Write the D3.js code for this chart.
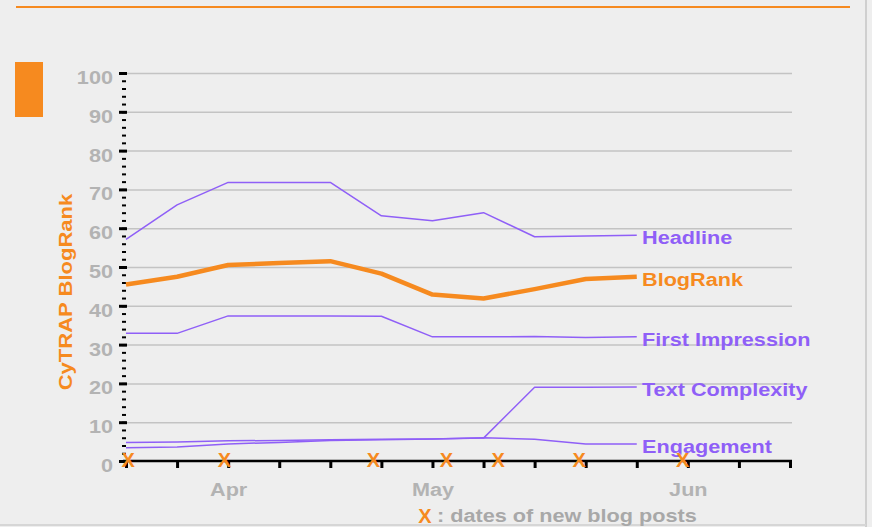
<!DOCTYPE html>
<html lang="en">
<head>
    <meta charset="UTF-8">
    <title>CyTRAP BlogRank</title>
    <script src="https://d3js.org/d3.v7.min.js"></script>
    <style>
        body, html {
            margin: 0;
            padding: 0;
            background: #eeeeee;
            font-family: "Liberation Sans", Arial, sans-serif;
        }
        svg text { font-weight: bold; }
    </style>
</head>
<body>
    <div id="chart"></div>
    <script>
        // weekly samples, in days from the first tick
        const weekDays = [0, 7, 14, 21, 28, 35, 42, 49, 56, 63, 70];
        const headline = [57.1, 66, 71.8, 71.8, 71.8, 63.2, 61.9, 64, 57.8, 58, 58.2];
        const blogRank = [45.5, 47.5, 50.5, 51, 51.5, 48.3, 42.9, 41.9, 44.3, 46.9, 47.5];
        const firstImpression = [32.9, 32.9, 37.4, 37.4, 37.4, 37.3, 32.0, 32.0, 32.1, 31.8, 32.0];
        const textComplexity = [3.4, 3.6, 4.4, 4.8, 5.3, 5.5, 5.7, 5.9, 19.0, 19.0, 19.1];
        const engagement = [4.8, 4.9, 5.2, 5.3, 5.5, 5.6, 5.7, 6.0, 5.6, 4.4, 4.4];

        const seriesNames = ["Headline", "BlogRank", "First Impression", "Text Complexity", "Engagement"];
        const postDays = [0.3, 13.5, 33.9, 43.9, 51.0, 62.1, 76.3];
        const monthDays = [14, 42, 77];
        const monthLabels = ["Apr", "May", "Jun"];
        const weekTicks = d3.range(0, 92, 7);
        const yTicks = d3.range(0, 101, 10);

        const W = 872, H = 527;
        const orange = "#f68a1f", purple = "#8f5ff7", gray = "#b3b3b3";
        const stretch = 1.14;

        const svg = d3.select("#chart").append("svg")
            .attr("width", W)
            .attr("height", H);

        // frame bits
        svg.append("line").attr("x1", 16).attr("x2", 850).attr("y1", 7).attr("y2", 7)
            .attr("stroke", orange).attr("stroke-width", 2);
        svg.append("line").attr("x1", 866).attr("x2", 866).attr("y1", 0).attr("y2", H)
            .attr("stroke", "#cfcfcf").attr("stroke-width", 2);
        svg.append("line").attr("x1", 0).attr("x2", 866).attr("y1", 525).attr("y2", 525)
            .attr("stroke", "#d6d6d6").attr("stroke-width", 2);
        svg.append("rect").attr("x", 15).attr("y", 62).attr("width", 28).attr("height", 55)
            .attr("fill", orange);

        const x = d3.scaleLinear().domain([0, 91]).range([126, 790]);
        const y = d3.scaleLinear().domain([0, 100]).range([461, 73]);

        // grid
        svg.append("g")
            .attr("transform", "translate(123,0)")
            .call(d3.axisRight(y).tickValues(yTicks.slice(1)).tickSize(669).tickFormat(""))
            .call(g => g.select(".domain").remove())
            .call(g => g.selectAll("line").attr("stroke", "#c3c3c3").attr("stroke-width", 1.5));

        // y minor ticks (dotted axis)
        svg.append("g")
            .attr("transform", "translate(126,0)")
            .call(d3.axisLeft(y).tickValues(d3.range(0, 101, 2)).tickSize(4).tickFormat(""))
            .call(g => g.select(".domain").remove())
            .call(g => g.selectAll("line").attr("stroke", "#000").attr("stroke-width", 2));

        // y major ticks
        svg.append("g")
            .attr("transform", "translate(127,0)")
            .call(d3.axisLeft(y).tickValues(yTicks).tickSize(8).tickFormat(""))
            .call(g => g.select(".domain").remove())
            .call(g => g.selectAll("line").attr("stroke", "#000").attr("stroke-width", 3));

        // y labels
        svg.append("g")
            .attr("transform", "translate(113,0)")
            .call(d3.axisLeft(y).tickValues(yTicks).tickSize(0).tickPadding(0))
            .call(g => g.select(".domain").remove())
            .call(g => g.selectAll("text")
                .attr("fill", gray)
                .attr("font-size", 19)
                .attr("font-family", "Liberation Sans, Arial, sans-serif")
                .attr("dy", "0.55em")
                .attr("transform", `scale(${stretch},1)`));

        svg.append("text")
            .attr("transform", `translate(72,292) rotate(-90) scale(1.16,1)`)
            .attr("text-anchor", "middle")
            .attr("fill", orange)
            .attr("font-size", 19)
            .text("CyTRAP BlogRank");

        // x axis
        svg.append("g")
            .attr("transform", "translate(0,461)")
            .call(d3.axisBottom(x).tickValues(weekTicks).tickSize(7).tickFormat(""))
            .call(g => g.select(".domain").attr("d", "M123,0H792").attr("stroke", "#000").attr("stroke-width", 2.5))
            .call(g => g.selectAll(".tick line").attr("stroke", "#000").attr("stroke-width", 3));

        svg.append("g")
            .attr("transform", "translate(0,496)")
            .call(d3.axisBottom(x).tickValues(monthDays).tickSize(0).tickPadding(0)
                .tickFormat((d, i) => monthLabels[i]))
            .call(g => g.select(".domain").remove())
            .call(g => g.selectAll("text")
                .attr("fill", gray)
                .attr("font-size", 19)
                .attr("font-family", "Liberation Sans, Arial, sans-serif")
                .attr("dy", 0)
                .attr("transform", `scale(${stretch},1)`));

        // series
        const values = [headline, blogRank, firstImpression, textComplexity, engagement];
        const line = d3.line().x((d, i) => x(weekDays[i])).y(d => y(d));

        values.forEach((vals, k) => {
            const isRank = seriesNames[k] === "BlogRank";
            svg.append("path")
                .datum(vals)
                .attr("fill", "none")
                .attr("stroke", isRank ? orange : purple)
                .attr("stroke-width", isRank ? 4.5 : 1.5)
                .attr("stroke-linejoin", "round")
                .attr("d", line);

            const last = vals[vals.length - 1];
            svg.append("text")
                .attr("transform", `translate(642,${y(last) + 9}) scale(${stretch},1)`)
                .attr("fill", isRank ? orange : purple)
                .attr("font-size", 19)
                .text(seriesNames[k]);
        });

        // blog post markers
        svg.selectAll(".post")
            .data(postDays)
            .enter().append("text")
            .attr("class", "post")
            .attr("x", d => x(d))
            .attr("y", 467)
            .attr("text-anchor", "middle")
            .attr("fill", orange)
            .attr("font-size", 20)
            .text("X");

        // legend
        svg.append("text")
            .attr("x", 425).attr("y", 523)
            .attr("text-anchor", "middle")
            .attr("fill", orange)
            .attr("font-size", 20)
            .text("X");
        svg.append("text")
            .attr("transform", `translate(437,522) scale(${stretch},1)`)
            .attr("fill", "#a8a8a8")
            .attr("font-size", 19)
            .text(": dates of new blog posts");
    </script>
</body>
</html>
